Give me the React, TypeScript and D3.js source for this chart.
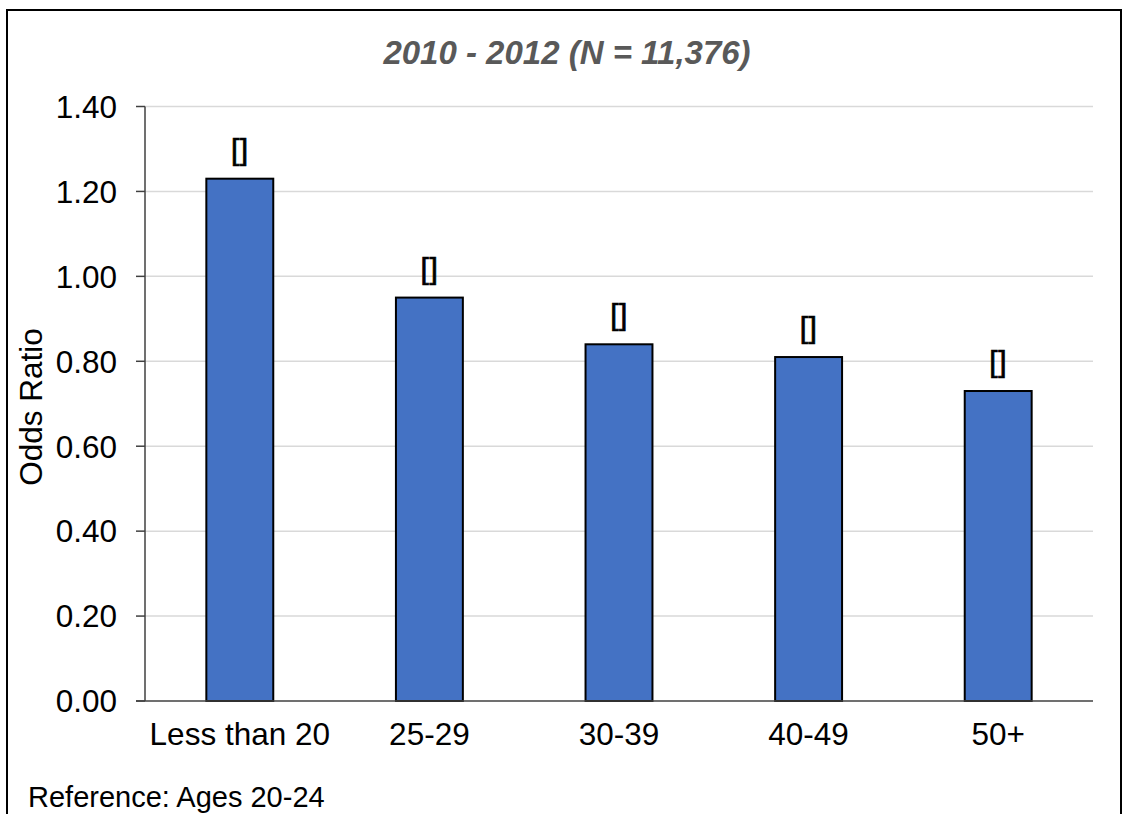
import React from "react";
import * as d3 from "d3";

const categories = ["Less than 20", "25-29", "30-39", "40-49", "50+"];
const oddsRatios = [1.23, 0.95, 0.84, 0.81, 0.73];
const barLabels = ["[]", "[]", "[]", "[]", "[]"];
const yTicks = [0, 0.2, 0.4, 0.6, 0.8, 1.0, 1.2, 1.4];
const titleText = "2010 - 2012 (N = 11,376)";
const yAxisTitle = "Odds Ratio";
const footnote = "Reference: Ages 20-24";

const W = 1122;
const H = 814;
const plot = { left: 145, right: 1093, top: 106.5, bottom: 701 };
const FONT = "'Liberation Sans', Arial, sans-serif";

export default function App() {
  const x = d3
    .scaleBand<string>()
    .domain(categories)
    .range([plot.left, plot.right])
    .paddingInner(0.647)
    .paddingOuter(0.3235);
  const y = d3.scaleLinear().domain([0, 1.4]).range([plot.bottom, plot.top]);

  return (
    <svg
      width={W}
      height={H}
      style={{ position: "absolute", left: 0, top: 0, background: "#fff" }}
      fontFamily={FONT}
    >
      <rect x={0} y={0} width={W} height={H} fill="#fff" />
      <rect x={7} y={10} width={1114} height={830} fill="none" stroke="#000" strokeWidth={2} />

      <text
        x={567}
        y={64}
        textAnchor="middle"
        fontSize={33}
        fontWeight="bold"
        fontStyle="italic"
        fill="#595959"
      >
        {titleText}
      </text>

      {yTicks.map((t) => (
        <g key={t}>
          {t > 0 && (
            <line
              x1={plot.left}
              x2={plot.right}
              y1={y(t)}
              y2={y(t)}
              stroke="#d9d9d9"
              strokeWidth={1.5}
            />
          )}
          <line x1={136} x2={plot.left} y1={y(t)} y2={y(t)} stroke="#404040" strokeWidth={1.5} />
          <text x={117} y={y(t)} dy="0.36em" textAnchor="end" fontSize={31.5} fill="#000">
            {d3.format(".2f")(t)}
          </text>
        </g>
      ))}

      {categories.map((c, i) => {
        const v = oddsRatios[i];
        const bx = x(c)!;
        const by = y(v);
        const cx = bx + x.bandwidth() / 2;
        return (
          <g key={c}>
            <rect
              x={bx}
              y={by}
              width={x.bandwidth()}
              height={y(0) - by}
              fill="#4472C4"
              stroke="#000"
              strokeWidth={2}
            />
            <text
              x={cx}
              y={by - 19}
              textAnchor="middle"
              fontSize={30}
              letterSpacing={0.5}
              fill="#000"
              stroke="#000"
              strokeWidth={0.7}
            >
              {barLabels[i]}
            </text>
            <text
              x={cx}
              y={plot.bottom + 44}
              textAnchor="middle"
              fontSize={31.5}
              fill="#000"
            >
              {c}
            </text>
          </g>
        );
      })}

      <line x1={plot.left} x2={plot.left} y1={plot.top} y2={plot.bottom} stroke="#404040" strokeWidth={1.5} />
      <line x1={136} x2={plot.right} y1={plot.bottom} y2={plot.bottom} stroke="#404040" strokeWidth={1.5} />

      <text
        transform={`translate(42, 407) rotate(-90)`}
        textAnchor="middle"
        fontSize={31.5}
        fill="#000"
      >
        {yAxisTitle}
      </text>

      <text x={28} y={807} fontSize={29} fill="#000">
        {footnote}
      </text>
    </svg>
  );
}
